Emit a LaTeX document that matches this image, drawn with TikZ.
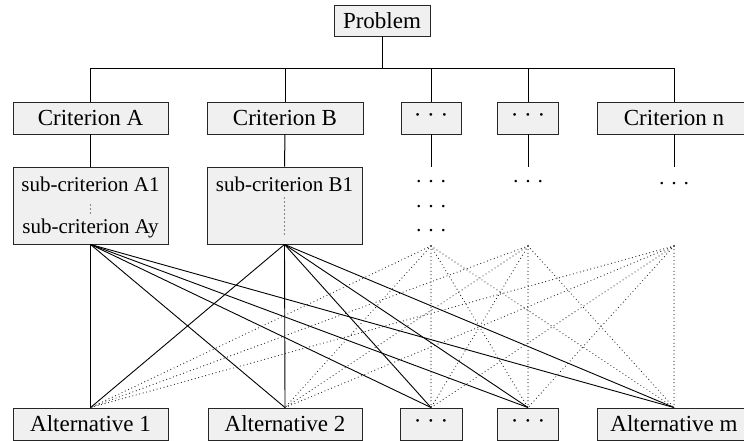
\documentclass[tikz,border=0pt]{standalone}
\usepackage{fontspec}
\setmainfont{Liberation Serif}
\begin{document}
\begin{tikzpicture}[x=1pt,y=-1pt,
  box/.style={draw=black!85, fill=black!6, line width=0.9pt, inner sep=0pt,
              minimum height=32pt, font=\fontsize{23}{27}\selectfont},
  subtext/.style={inner sep=0pt, anchor=base, font=\fontsize{21}{25}\selectfont},
  freedots/.style={inner sep=0pt, anchor=base, font=\fontsize{21}{25}\selectfont},
  tree/.style={line width=1pt},
  link/.style={line width=0.9pt},
  weak/.style={line width=1.2pt, black!85, dash pattern=on 0pt off 3.6pt, line cap=round},
  vdotline/.style={line width=1.3pt, black!85, dash pattern=on 0pt off 4pt, line cap=round}]
\useasboundingbox (0,0) rectangle (744,441);
\clip (0,0) rectangle (744,441);

% goal
\node[box, minimum width=96pt, minimum height=31pt] (problem) at (382,20.5) {Problem};

% criteria
\node[box, minimum width=155pt] (critA) at (90.5,118) {Criterion A};
\node[box, minimum width=156pt] (critB) at (285,118) {Criterion B};
\node[box, minimum width=60pt]  (critC) at (431,118) {· · ·};
\node[box, minimum width=61pt]  (critD) at (528,118) {· · ·};
\node[box, minimum width=154pt] (critN) at (674,118) {Criterion n};

% tree from the goal to the criteria
\coordinate (hub) at (382,69);
\draw[tree] (problem.south) -- (hub);
\draw[tree] (critA.north) -- (critA.north |- hub) -- (critN.north |- hub) -- (critN.north);
\draw[tree] (critB.north) -- (critB.north |- hub);
\draw[tree] (critC.north) -- (critC.north |- hub);
\draw[tree] (critD.north) -- (critD.north |- hub);

% sub-criteria
\node[box, minimum width=155pt, minimum height=77pt] (subA) at (90.5,205.5) {};
\node[box, minimum width=155pt, minimum height=77pt] (subB) at (284.5,205.5) {};
\node[subtext] (subA1) at (90.5,191) {sub-criterion A1};
\node[subtext] (subAy) at (90.5,233) {sub-criterion Ay};
\node[subtext] (subB1) at (284.5,191) {sub-criterion B1};
\draw[vdotline] (90.5,205) -- (90.5,213.3);
\draw[vdotline] (284.5,198) -- (284.5,234.3);
\draw[tree] (critA.south) -- (subA.north);
\draw[tree] (critB.south) -- (subB.north);

% open columns below the elided criteria
\coordinate (colC) at (431,167);
\coordinate (colD) at (528,167);
\coordinate (colN) at (674,167);
\draw[tree] (critC.south) -- (colC);
\draw[tree] (critD.south) -- (colD);
\draw[tree] (critN.south) -- (colN);
\node[freedots] (dC1) at (431,188.5) {· · ·};
\node[freedots] (dC2) at (431,213.5) {· · ·};
\node[freedots] (dC3) at (431,237.5) {· · ·};
\node[freedots] (dD1) at (528,188.5) {· · ·};
\node[freedots] (dN1) at (674,190.5) {· · ·};
\coordinate (fanC) at (431,246);
\coordinate (fanD) at (528,246);
\coordinate (fanN) at (674,246);

% alternatives
\node[box, minimum width=155pt] (alt1) at (90.5,424) {Alternative 1};
\node[box, minimum width=154pt] (alt2) at (285,424) {Alternative 2};
\node[box, minimum width=62pt]  (altC) at (431,424) {· · ·};
\node[box, minimum width=61pt]  (altD) at (528,424) {· · ·};
\node[box, minimum width=154pt] (altM) at (674,424) {Alternative m};

% links from every criterion to every alternative
\foreach \s in {subA, subB}
  \foreach \t in {alt1, alt2, altC, altD, altM}
    \draw[link] (\s.south) -- (\t.north);
\foreach \s in {fanC, fanD, fanN}
  \foreach \t in {alt1, alt2, altC, altD, altM}
    \draw[weak] (\s) -- (\t.north);
\end{tikzpicture}
\end{document}
